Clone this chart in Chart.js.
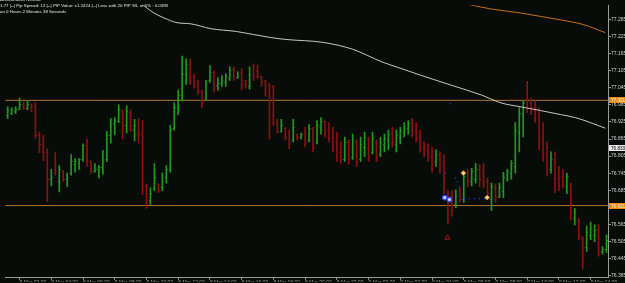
<!DOCTYPE html>
<html><head><meta charset="utf-8">
<script src="https://cdn.jsdelivr.net/npm/chart.js@4.4.1/dist/chart.umd.min.js"></script>
<style>html,body{margin:0;padding:0;background:#070c09;overflow:hidden}#wrap{width:625px;height:283px}</style>
</head><body><div id="wrap"><canvas id="c" width="625" height="283"></canvas></div>
<script>
// ---- OHLC bars (bar index = position in arrays) ----
const highs = [
76.978,76.975,76.978,77.009,76.995,76.999,76.989,76.992,76.889,76.879,
76.831,76.758,76.817,76.772,76.755,76.745,76.810,76.796,76.796,76.848,
76.865,76.789,76.779,76.772,76.824,76.892,76.937,76.940,76.985,76.968,
76.982,76.968,76.934,76.937,76.930,76.707,76.693,76.779,76.707,76.745,
76.772,76.913,76.992,77.037,77.157,77.147,77.147,77.092,77.071,77.037,
77.071,77.123,77.105,77.081,77.088,77.095,77.119,77.119,77.102,77.112,
77.071,77.119,77.129,77.126,77.085,77.071,77.061,77.054,76.934,76.934,
76.906,76.896,76.934,76.882,76.886,76.906,76.916,76.906,76.930,76.940,
76.930,76.923,76.906,76.889,76.855,76.872,76.862,76.882,76.862,76.872,
76.889,76.872,76.889,76.862,76.872,76.882,76.896,76.906,76.896,76.906,
76.923,76.930,76.937,76.923,76.896,76.855,76.848,76.837,76.827,76.820,
76.810,76.683,76.683,76.686,76.693,76.752,76.758,76.762,76.779,76.776,
76.779,76.728,76.710,76.707,76.710,76.748,76.758,76.789,76.923,76.975,
76.999,77.068,77.009,76.999,76.975,76.923,76.855,76.820,76.820,76.769,
76.758,76.745,76.710,76.621,76.587,76.521,76.559,76.573,76.563,76.563,
76.487,76.528];
const lows = [
76.937,76.951,76.954,76.968,76.968,76.968,76.961,76.868,76.817,76.789,
76.645,76.700,76.738,76.679,76.717,76.697,76.738,76.748,76.758,76.786,
76.769,76.745,76.748,76.728,76.741,76.786,76.851,76.879,76.923,76.865,
76.886,76.892,76.858,76.851,76.669,76.621,76.635,76.683,76.676,76.683,
76.710,76.748,76.896,76.951,76.999,77.057,77.057,77.044,77.023,76.975,
77.002,77.064,77.030,77.037,77.050,77.050,77.071,77.071,77.078,77.037,
77.044,77.040,77.071,77.078,77.050,77.016,76.865,76.913,76.886,76.889,
76.862,76.831,76.855,76.862,76.865,76.837,76.855,76.820,76.848,76.882,
76.872,76.855,76.820,76.786,76.779,76.786,76.776,76.793,76.769,76.786,
76.803,76.786,76.813,76.786,76.803,76.820,76.827,76.837,76.820,76.848,
76.872,76.882,76.872,76.855,76.820,76.803,76.786,76.748,76.769,76.745,
76.673,76.566,76.594,76.624,76.642,76.642,76.697,76.700,76.710,76.697,
76.693,76.659,76.614,76.642,76.659,76.659,76.717,76.724,76.745,76.820,
76.872,76.958,76.951,76.923,76.827,76.786,76.734,76.745,76.676,76.683,
76.693,76.673,76.580,76.563,76.511,76.408,76.470,76.511,76.504,76.453,
76.460,76.466];
const opens = [
76.951,76.958,76.965,76.971,76.989,76.975,76.989,76.982,76.879,76.848,
76.820,76.724,76.800,76.717,76.752,76.724,76.745,76.776,76.779,76.793,
76.844,76.786,76.752,76.758,76.765,76.793,76.879,76.923,76.930,76.965,
76.916,76.961,76.896,76.920,76.882,76.700,76.649,76.693,76.707,76.697,
76.731,76.758,76.903,76.978,77.020,77.092,77.136,77.088,77.061,77.033,
77.002,77.071,77.102,77.054,77.061,77.064,77.081,77.112,77.081,77.099,
77.071,77.050,77.123,77.105,77.085,77.068,77.054,77.050,76.927,76.892,
76.903,76.889,76.862,76.882,76.872,76.889,76.862,76.899,76.855,76.906,
76.927,76.896,76.882,76.855,76.820,76.796,76.855,76.803,76.855,76.793,
76.837,76.865,76.820,76.855,76.813,76.848,76.862,76.889,76.848,76.872,
76.889,76.903,76.923,76.896,76.872,76.837,76.827,76.803,76.786,76.810,
76.786,76.676,76.666,76.638,76.683,76.655,76.745,76.717,76.724,76.758,
76.752,76.717,76.655,76.697,76.666,76.683,76.724,76.745,76.769,76.889,
76.951,77.009,76.992,76.975,76.951,76.862,76.820,76.758,76.786,76.724,
76.734,76.700,76.700,76.587,76.580,76.518,76.484,76.528,76.528,76.545,
76.470,76.477];
const closes = [
76.968,76.968,76.971,76.989,76.975,76.989,76.982,76.879,76.848,76.820,
76.724,76.731,76.752,76.758,76.724,76.731,76.786,76.786,76.793,76.844,
76.786,76.752,76.758,76.765,76.786,76.879,76.923,76.930,76.971,76.916,
76.965,76.916,76.913,76.882,76.700,76.649,76.676,76.731,76.690,76.717,
76.758,76.896,76.978,77.020,77.092,77.129,77.061,77.050,77.033,77.002,
77.061,77.102,77.047,77.061,77.074,77.085,77.109,77.085,77.088,77.057,
77.057,77.095,77.085,77.085,77.068,77.040,76.910,76.923,76.892,76.916,
76.868,76.855,76.906,76.872,76.882,76.855,76.903,76.837,76.916,76.930,
76.889,76.868,76.837,76.803,76.793,76.855,76.793,76.862,76.786,76.848,
76.872,76.803,76.868,76.803,76.855,76.868,76.882,76.855,76.879,76.896,
76.910,76.923,76.889,76.868,76.837,76.813,76.803,76.779,76.813,76.769,
76.734,76.597,76.614,76.666,76.655,76.734,76.717,76.752,76.758,76.724,
76.717,76.676,76.700,76.662,76.697,76.731,76.752,76.779,76.896,76.958,
76.992,76.978,76.965,76.940,76.855,76.813,76.758,76.793,76.710,76.700,
76.707,76.734,76.607,76.607,76.528,76.436,76.539,76.552,76.545,76.477,
76.480,76.511];

// ---- moving averages (bar index, price) ----
const maSlowX = [32,36.9,39.4,42.7,46.2,51.2,57.7,66.2,70.2,79.4,86.9,94.4,99.4,104.4,111.9,119.4,124.4,129.4,134.4,139.4,143.2,146.9,150.7];
const maSlowY = [77.36,77.308,77.291,77.274,77.270,77.253,77.243,77.222,77.215,77.205,77.181,77.136,77.112,77.088,77.054,77.020,76.992,76.978,76.965,76.951,76.940,76.923,76.903];
const maLongX = [114,116.9,122,129.4,134.4,139.4,145,150.7];
const maLongY = [77.345,77.336,77.322,77.308,77.296,77.284,77.268,77.239];

// ---- horizontal levels ----
const levelValues = [77.001, 76.631];
const levelLabels = ['77.001', '76.631'];
const bidValue = 76.833;
const bidLabel = '76.833';

// ---- signal markers ----
const dotX = [110.4,112.9,113.4,113.9,115.2,116.4,117.7,118.9,120.2,111.6];
const dotY = [76.745,76.728,76.714,76.697,76.655,76.655,76.655,76.655,76.655,76.989];
const circleX = [110.2,111.4];
const circleY = [76.659,76.652];
const diamondX = [114.9,120.9];
const diamondY = [76.745,76.659];
const arrowX = [110.9];
const arrowY = [76.518];

// ---- axes ----
const priceTicks = [76.385,76.445,76.505,76.565,76.625,76.685,76.745,76.805,76.865,76.925,76.985,77.045,77.105,77.165,77.225,77.285];
const priceTickLabels = ['76.385','76.445','76.505','76.565','76.625','76.685','76.745','76.805','76.865','76.925','76.985','77.045','77.105','77.165','77.225','77.285'];
const timeTickBars = [3,11,19,27,35,43,51,59,67,75,83,91,99,107,115,123,131,139,147];
const timeLabels = ['8 Mar 02:00','8 Mar 04:00','8 Mar 06:00','8 Mar 08:00','8 Mar 10:00','8 Mar 12:00','8 Mar 14:00','8 Mar 16:00','8 Mar 18:00','8 Mar 20:00','8 Mar 22:00','9 Mar 00:00','9 Mar 02:00','9 Mar 04:00','9 Mar 06:00','9 Mar 08:00','9 Mar 10:00','9 Mar 12:00','9 Mar 14:00'];

const headerLines = ['Analisa Aktiv Neutral',
 '1.77 |--| Pip Spread: 12 |--| PIP Value: \u00b11.2424 |--| Loss with 20 PIP S/L at 5% : 0.0393',
 'an 0 Hours 2 Minutes 38 Seconds'];

const GREEN = '#1f9a1f', RED = '#8e1010';
const pts = (xs, ys) => xs.map((x, i) => ({x, y: ys[i]}));

const bgPlugin = {
  id: 'bg',
  beforeDraw(chart) {
    const c = chart.ctx; c.save(); c.fillStyle = '#070c09'; c.fillRect(0, 0, chart.width, chart.height); c.restore();
  }
};
const ohlcTicks = {
  id: 'ohlcTicks',
  afterDatasetsDraw(chart) {
    const {ctx, scales: {x, y}, chartArea: a} = chart;
    ctx.save();
    ctx.beginPath(); ctx.rect(a.left, a.top, a.width, a.height); ctx.clip();
    for (let i = 0; i < highs.length; i++) {
      const cx = x.getPixelForValue(i);
      ctx.fillStyle = closes[i] >= opens[i] ? GREEN : RED;
      ctx.fillRect(cx - 1.5, Math.round(y.getPixelForValue(opens[i])), 1, 1);
      ctx.fillRect(cx + 0.5, Math.round(y.getPixelForValue(closes[i])), 1, 1);
    }
    ctx.restore();
  }
};
const overlay = {
  id: 'overlay',
  afterDraw(chart) {
    const {ctx, scales: {y}, chartArea: a} = chart;
    ctx.save();
    ctx.font = '4.6px "Liberation Sans", "DejaVu Sans", sans-serif';
    ctx.textBaseline = 'middle';
    ctx.textAlign = 'left';
    levelValues.forEach((v, i) => {
      const py = Math.round(y.getPixelForValue(v));
      ctx.fillStyle = '#e8890e';
      ctx.fillRect(a.right + 1, py - 3, 17, 6);
      ctx.fillStyle = '#fff4dc';
      ctx.fillText(levelLabels[i], a.right + 3, py + 0.3);
    });
    const by = Math.round(y.getPixelForValue(bidValue));
    ctx.fillStyle = '#e6e6e6';
    ctx.fillRect(a.right + 1, by - 3, 17, 6);
    ctx.fillStyle = '#000';
    ctx.fillText(bidLabel, a.right + 3, by + 0.3);
    // header text
    ctx.fillStyle = '#e8e8e8';
    ctx.font = '4.4px "Liberation Sans", "DejaVu Sans", sans-serif';
    ctx.textBaseline = 'alphabetic';
    ctx.fillText(headerLines[0], 0, 1.2);
    ctx.fillText(headerLines[1], 0, 7);
    ctx.fillText(headerLines[2], 0, 12.6);
    ctx.restore();
  }
};

new Chart(document.getElementById('c'), {
  type: 'bar',
  data: {
    datasets: [
      {type: 'bar', label: 'Price', data: highs.map((h, i) => ({x: i, y: [lows[i], h]})),
       backgroundColor: c => closes[c.dataIndex] >= opens[c.dataIndex] ? GREEN : RED,
       barThickness: 1, borderWidth: 0, grouped: false, order: 5},
      {type: 'line', label: 'Level 1', data: [{x: -0.625, y: levelValues[0]}, {x: 151.375, y: levelValues[0]}],
       borderColor: '#b4732d', borderWidth: 1, pointRadius: 0, order: 6},
      {type: 'line', label: 'Level 2', data: [{x: -0.625, y: levelValues[1]}, {x: 151.375, y: levelValues[1]}],
       borderColor: '#b4732d', borderWidth: 1, pointRadius: 0, order: 6},
      {type: 'line', label: 'MA slow', data: pts(maSlowX, maSlowY), borderColor: '#c9c6bc', borderWidth: 1,
       pointRadius: 0, cubicInterpolationMode: 'monotone', order: 1},
      {type: 'line', label: 'MA long', data: pts(maLongX, maLongY), borderColor: '#c8701c', borderWidth: 1,
       pointRadius: 0, cubicInterpolationMode: 'monotone', order: 1},
      {type: 'scatter', label: 'Signal dots', data: pts(dotX, dotY), pointRadius: 0.8, pointBackgroundColor: '#2233c8',
       pointBorderWidth: 0, order: 0},
      {type: 'scatter', label: 'Circles', data: pts(circleX, circleY), pointRadius: 2.2, pointBackgroundColor: '#c8d0ff',
       pointBorderColor: '#3848ff', pointBorderWidth: 1.2, order: 0},
      {type: 'scatter', label: 'Diamonds', data: pts(diamondX, diamondY), pointStyle: 'rectRot', pointRadius: 2.4,
       pointBackgroundColor: '#f2d68a', pointBorderColor: '#d08a20', pointBorderWidth: 1, order: 0},
      {type: 'scatter', label: 'Arrow', data: pts(arrowX, arrowY), pointStyle: 'triangle', pointRadius: 3,
       pointBackgroundColor: 'rgba(0,0,0,0)', pointBorderColor: '#a01818', pointBorderWidth: 1, order: 0}
    ]
  },
  options: {
    responsive: false, animation: false, devicePixelRatio: 1,
    layout: {padding: 0},
    plugins: {legend: {display: false}, tooltip: {enabled: false}},
    scales: {
      x: {type: 'linear', min: -0.625, max: 151.375, offset: false, bounds: 'data',
        afterBuildTicks: s => { s.ticks = timeTickBars.map(v => ({value: v})); },
        ticks: {autoSkip: false, maxRotation: 0, minRotation: 0, align: 'start', padding: 0, color: '#a8a8a8',
          font: {size: 5, family: '"Liberation Sans", "DejaVu Sans", sans-serif'},
          callback: (v, i) => timeLabels[i]},
        grid: {drawOnChartArea: false, drawTicks: true, tickLength: 2, color: '#9a9a9a', offset: false},
        border: {display: true, color: '#9a9a9a'},
        afterFit: s => { s.height = 4; s.paddingLeft = 0; s.paddingRight = 0; }
      },
      y: {type: 'linear', position: 'right', min: 76.377, max: 77.3355, bounds: 'data',
        afterBuildTicks: s => { s.ticks = priceTicks.map(v => ({value: v})); },
        ticks: {autoSkip: false, padding: 0, crossAlign: 'near', color: '#d4d4d4',
          font: {size: 5, family: '"Liberation Sans", "DejaVu Sans", sans-serif'},
          callback: (v, i) => priceTickLabels[i]},
        grid: {drawOnChartArea: false, tickLength: 3, color: '#9a9a9a'},
        border: {display: true, color: '#9a9a9a'},
        afterFit: s => { s.width = 17; s.paddingTop = 0; s.paddingBottom = 0; }
      }
    }
  },
  plugins: [bgPlugin, ohlcTicks, overlay]
});
</script>
</body></html>
